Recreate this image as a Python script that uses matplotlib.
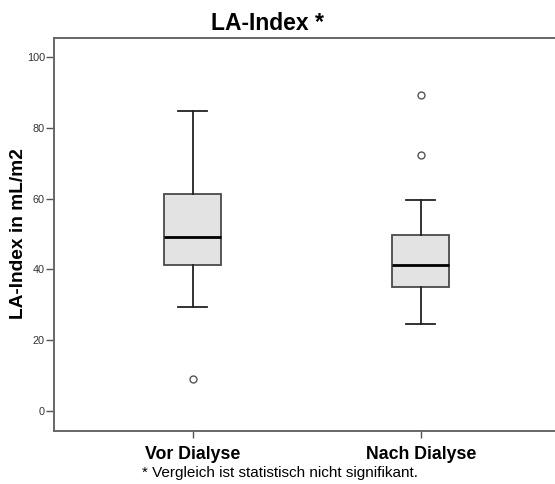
import matplotlib
matplotlib.use("Agg")
import matplotlib.pyplot as plt

# Daten
gruppen = ["Vor Dialyse", "Nach Dialyse"]
whisker_unten = [29.4, 24.4]
q1 = [41.2, 35.0]
median = [49.1, 41.2]
q3 = [61.2, 49.6]
whisker_oben = [84.6, 59.6]
ausreisser = [[8.9], [72.3, 89.2]]
y_ticks = [0, 20, 40, 60, 80, 100]

plt.rcParams['font.family'] = ['Liberation Sans', 'DejaVu Sans']

stats = []
for i, name in enumerate(gruppen):
    stats.append({
        'label': name,
        'whislo': whisker_unten[i],
        'q1': q1[i],
        'med': median[i],
        'q3': q3[i],
        'whishi': whisker_oben[i],
        'fliers': ausreisser[i],
    })

fig = plt.figure(figsize=(5.55, 4.84), dpi=100)
W, H = 555, 484
ax = fig.add_axes([54 / W, (H - 431) / H, (562 - 54) / W, (431 - 37.5) / H])

ax.bxp(stats, positions=[1, 2], widths=0.25, capwidths=0.125, patch_artist=True,
       boxprops=dict(facecolor='#e3e3e3', edgecolor='#4a4a4a', linewidth=1.3),
       medianprops=dict(color='black', linewidth=2),
       whiskerprops=dict(color='#222222', linewidth=1.3),
       capprops=dict(color='#222222', linewidth=1.3),
       flierprops=dict(marker='o', markerfacecolor='white', markeredgecolor='#555555',
                       markersize=5, markeredgewidth=1))

ax.set_xlim(1 - 138.7 / 228, 2 + (562 - 420.7) / 228)
ax.set_ylim(-5.7, 105.5)
ax.set_yticks(y_ticks)
ax.set_yticklabels([str(t) for t in y_ticks], fontsize=7.8, color='#333333')
ax.set_xticks([1, 2])
ax.set_xticklabels(gruppen, fontsize=12.8, fontweight='bold')
ax.tick_params(axis='y', length=6, width=1, color='#555555', pad=0.5)
ax.tick_params(axis='x', length=5, width=1, color='#555555', pad=6)
for s in ax.spines.values():
    s.set_color('#666666')
    s.set_linewidth(1.4)

fig.text(19 / W, 1 - 234 / H, 'LA-Index in mL/m2', fontsize=13.8, fontweight='bold',
         rotation=90, ha='center', va='center')
fig.text(267 / W, 1 - 24 / H, 'LA-Index *', fontsize=16.5, fontweight='bold',
         ha='center', va='center')
fig.text(142 / W, 1 - 473 / H, '* Vergleich ist statistisch nicht signifikant.',
         fontsize=11, ha='left', va='center')

fig.savefig('out.png', dpi=100)
